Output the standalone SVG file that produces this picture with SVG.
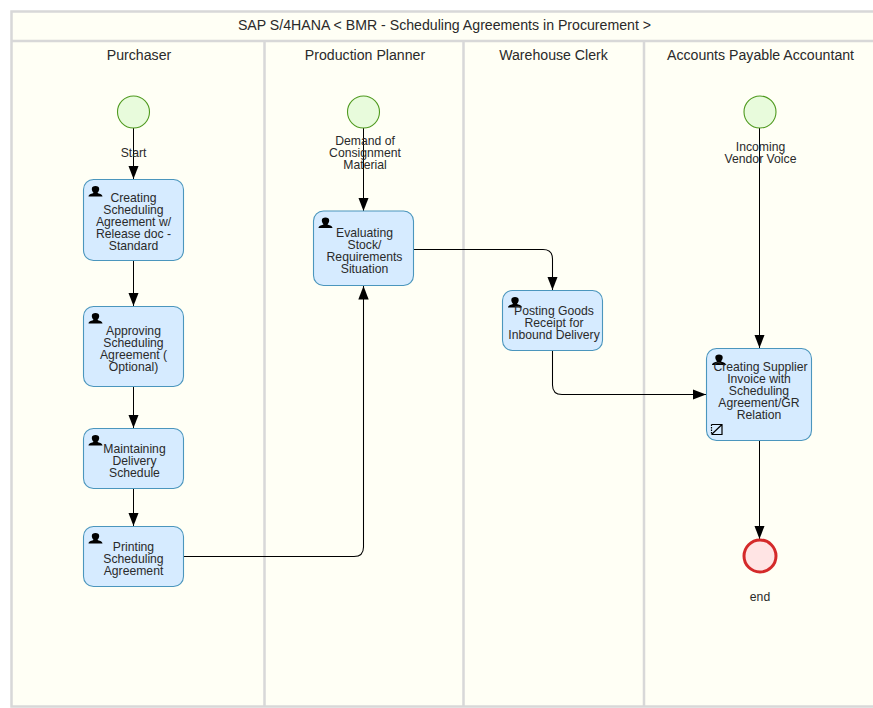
<svg xmlns="http://www.w3.org/2000/svg" width="873" height="708" viewBox="0 0 873 708">
<style>
text{font-family:"Liberation Sans",Arial,sans-serif;font-size:12.2px;fill:#2a2a2a;text-anchor:middle}
.h{font-size:14.15px}
.lane{fill:#fffff5;stroke:#d8d8d8;stroke-width:2.5}
.t{fill:#d6ebff;stroke:#4b96bd;stroke-width:1.1}
.c{fill:none;stroke:#000;stroke-width:1.05;marker-end:url(#a)}
</style>
<defs>
<marker id="a" markerUnits="userSpaceOnUse" markerWidth="14" markerHeight="12" refX="13.500" refY="6" orient="auto" viewBox="0 0 14 12"><path d="M0 .8L0 11.200L13.500 6Z" fill="#000"/></marker>
<path id="u" d="M0 10.500C0 8 3.800 8 5 6.800C4 5.800 3.300 4.500 3.300 3C3.300 .8 4.800 0 7 0C9.200 0 10.700 .8 10.700 3C10.700 4.500 10 5.800 9 6.800C10.200 8 14 8 14 10.500Z" fill="#000"/>
</defs>
<rect width="873" height="708" fill="#fff"/>
<g id="pool">
<rect class="lane" x="11.500" y="11.500" width="870" height="695"/>
<path class="lane" d="M11.500 41H881M264.500 41V706.500M463.500 41V706.500M644 41V706.500"/>
<text class="h" x="444.500" y="30">SAP S/4HANA &lt; BMR - Scheduling Agreements in Procurement &gt;</text>
<text class="h" x="139" y="60">Purchaser</text>
<text class="h" x="365" y="60">Production Planner</text>
<text class="h" x="553.500" y="60">Warehouse Clerk</text>
<text class="h" x="760.500" y="60">Accounts Payable Accountant</text>
</g>
<g id="connectors">
<path class="c" d="M133.500 128V179"/>
<path class="c" d="M133.500 261V306"/>
<path class="c" d="M133.500 387V428"/>
<path class="c" d="M133.500 489V526"/>
<path class="c" d="M184 556.500H354Q363.500 556.500 363.500 547V286"/>
<path class="c" d="M363.500 128V211"/>
<path class="c" d="M414 249.500H543Q552.500 249.500 552.500 259V290"/>
<path class="c" d="M552.500 350.500V385Q552.500 394.500 562 394.500H706"/>
<path class="c" d="M759.500 128V348"/>
<path class="c" d="M759.500 441V539"/>
</g>
<g id="start1"><circle cx="133.500" cy="112" r="16" fill="#e8fbdc" stroke="#4f9a1f" stroke-width="1.100"/><text x="133.500" y="157">Start</text></g>
<g id="start2"><circle cx="363.500" cy="112" r="16" fill="#e8fbdc" stroke="#4f9a1f" stroke-width="1.100"/><text x="365" y="145">Demand of</text><text x="365" y="157">Consignment</text><text x="365" y="169">Material</text></g>
<g id="start3"><circle cx="760" cy="112" r="16" fill="#e8fbdc" stroke="#4f9a1f" stroke-width="1.100"/><text x="760.500" y="151">Incoming</text><text x="760.500" y="163">Vendor Voice</text></g>
<g id="task1"><rect class="t" x="83.500" y="179.500" width="100" height="81" rx="10"/><use href="#u" x="88.500" y="186"/><text x="133.500" y="202">Creating</text><text x="133.500" y="214">Scheduling</text><text x="133.500" y="226">Agreement w/</text><text x="133.500" y="238">Release doc -</text><text x="133.500" y="250">Standard</text></g>
<g id="task2"><rect class="t" x="83.500" y="306.500" width="100" height="80" rx="10"/><use href="#u" x="88.500" y="313"/><text x="133.500" y="335">Approving</text><text x="133.500" y="347">Scheduling</text><text x="133.500" y="359">Agreement (</text><text x="133.500" y="371">Optional)</text></g>
<g id="task3"><rect class="t" x="83.500" y="428.500" width="100" height="60" rx="10"/><use href="#u" x="88.500" y="435"/><text x="134.500" y="453">Maintaining</text><text x="134.500" y="465">Delivery</text><text x="134.500" y="477">Schedule</text></g>
<g id="task4"><rect class="t" x="83.500" y="526.500" width="100" height="60" rx="10"/><use href="#u" x="88.500" y="533"/><text x="133.500" y="551">Printing</text><text x="133.500" y="563">Scheduling</text><text x="133.500" y="575">Agreement</text></g>
<g id="task5"><rect class="t" x="313.500" y="211" width="100" height="74.500" rx="10"/><use href="#u" x="318.500" y="217.500"/><text x="364.500" y="237">Evaluating</text><text x="364.500" y="249">Stock/</text><text x="364.500" y="261">Requirements</text><text x="364.500" y="273">Situation</text></g>
<g id="task6"><rect class="t" x="502.500" y="290.500" width="100" height="60" rx="10"/><use href="#u" x="508" y="297"/><text x="554" y="315">Posting Goods</text><text x="554" y="327">Receipt for</text><text x="554" y="339">Inbound Delivery</text></g>
<g id="task7"><rect class="t" x="706.500" y="348.500" width="105" height="92" rx="10"/><use href="#u" x="712" y="354.500"/><text x="760.500" y="371">Creating Supplier</text><text x="759" y="383">Invoice with</text><text x="759" y="395">Scheduling</text><text x="759" y="407">Agreement/GR</text><text x="759" y="419">Relation</text><path d="M711.500 424.500H722V434.500H711.500M711.500 434.500L722 424.500" fill="none" stroke="#000" stroke-width="1.200"/><path d="M711.500 424.500V434.500" fill="none" stroke="#000" stroke-width="1.200" stroke-dasharray="1.500 1"/></g>
<g id="end"><circle cx="760" cy="556" r="16" fill="#ffe4e4" stroke="#d42a2a" stroke-width="3"/><text x="760" y="601">end</text></g>
</svg>
